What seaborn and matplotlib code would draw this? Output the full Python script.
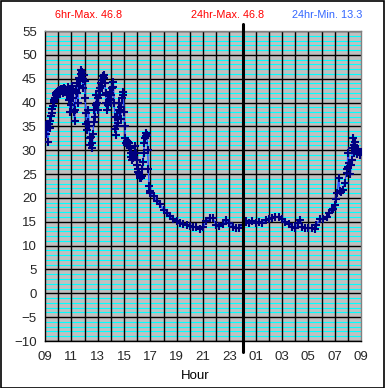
import matplotlib
matplotlib.use("Agg")
import matplotlib.pyplot as plt
import seaborn as sns
import numpy as np
import pandas as pd
from matplotlib.patches import Rectangle

# Hours elapsed since 09:00
hours = [
    0.00, 0.05, 0.10, 0.15, 0.20, 0.25, 0.30, 0.35, 0.40, 0.45, 0.50, 0.55, 0.60, 0.65, 0.70, 0.75,
    0.80, 0.85, 0.90, 0.95, 1.00, 1.05, 1.10, 1.15, 1.20, 1.25, 1.30, 1.35, 1.40, 1.45, 1.50, 1.55,
    1.60, 1.65, 1.70, 1.75, 1.80, 1.85, 1.90, 1.95, 2.00, 2.05, 2.10, 2.15, 2.20, 2.25, 2.30, 2.35,
    2.40, 2.45, 2.50, 2.55, 2.60, 2.65, 2.70, 2.75, 2.80, 2.85, 2.90, 2.95, 3.00, 3.05, 3.10, 3.15,
    3.20, 3.25, 3.30, 3.35, 3.40, 3.45, 3.50, 3.55, 3.60, 3.65, 3.70, 3.75, 3.80, 3.85, 3.90, 3.95,
    4.00, 4.05, 4.10, 4.15, 4.20, 4.25, 4.30, 4.35, 4.40, 4.45, 4.50, 4.55, 4.60, 4.65, 4.70, 4.75,
    4.80, 4.85, 4.90, 4.95, 5.00, 5.05, 5.10, 5.15, 5.20, 5.25, 5.30, 5.35, 5.40, 5.45, 5.50, 5.55,
    5.60, 5.65, 5.70, 5.75, 5.80, 5.85, 5.90, 5.95, 6.00, 6.05, 6.10, 6.15, 6.20, 6.25, 6.30, 6.35,
    6.40, 6.45, 6.50, 6.55, 6.60, 6.65, 6.70, 6.75, 6.80, 6.85, 6.90, 6.95, 7.00, 7.05, 7.10, 7.15,
    7.20, 7.25, 7.30, 7.35, 7.40, 7.45, 7.50, 7.55, 7.60, 7.65, 7.70, 7.75, 7.80, 7.85, 7.90, 7.95,
    8.00, 8.25, 8.50, 8.75, 9.00, 9.25, 9.50, 9.75, 10.00, 10.25, 10.50, 10.75, 11.00, 11.25, 11.50,
    11.75, 12.00, 12.25, 12.50, 12.75, 13.00, 13.25, 13.50, 13.75, 14.00, 14.25, 14.50, 14.75, 15.00,
    15.25, 15.50, 15.75, 16.00, 16.25, 16.50, 16.75, 17.00, 17.25, 17.50, 17.75, 18.00, 18.25, 18.50,
    18.75, 19.00, 19.25, 19.40, 19.50, 19.75, 20.00, 20.25, 20.50, 20.60, 20.90, 21.15, 21.40, 21.60,
    21.80, 21.90, 22.00, 22.10, 22.20, 22.30, 22.40, 22.50, 22.60, 22.75, 22.90, 22.95, 23.00, 23.05,
    23.10, 23.20, 23.25, 23.30, 23.35, 23.40, 23.45, 23.50, 23.55, 23.60, 23.70, 23.80, 23.90, 24.00,
]
temps = [
    34.5, 35.2, 33.5, 35.6, 31.8, 34.8, 35.5, 34.6, 36.2, 37.2, 37.8, 38.6, 39.3, 40.1, 40.6, 41.0,
    41.6, 41.9, 42.3, 42.1, 42.5, 42.2, 42.6, 41.8, 42.4, 42.9, 42.6, 42.0, 42.8, 43.0, 42.5, 42.8,
    42.2, 41.5, 42.6, 43.2, 42.9, 40.5, 38.1, 39.5, 42.0, 43.4, 42.8, 41.0, 38.0, 36.2, 38.5, 42.5,
    44.0, 42.0, 40.0, 43.5, 45.2, 44.6, 46.0, 46.8, 46.5, 45.0, 43.0, 45.8, 44.5, 41.0, 37.8, 35.5,
    34.3, 36.0, 38.5, 35.0, 32.5, 31.0, 32.8, 30.4, 31.5, 33.5, 36.0, 38.5, 37.0, 39.5, 41.6, 40.0,
    38.5, 41.0, 42.5, 41.5, 43.0, 44.2, 43.5, 44.8, 45.5, 45.8, 45.2, 44.0, 42.0, 40.0, 38.5, 39.5,
    41.5, 40.5, 42.0, 40.8, 39.8, 41.5, 43.0, 44.4, 43.2, 40.0, 37.0, 34.5, 33.2, 35.0, 37.0, 35.8,
    38.5, 40.0, 38.0, 36.5, 39.0, 41.0, 42.3, 41.5, 38.0, 35.0, 32.5, 31.5, 32.0, 31.2, 31.8, 30.8,
    31.5, 30.5, 29.5, 28.6, 28.0, 28.3, 29.0, 28.5, 29.5, 30.8, 29.5, 28.0, 27.0, 26.0, 25.5, 25.0,
    24.5, 24.2, 24.1, 24.5, 26.0, 27.5, 29.5, 31.5, 32.5, 33.0, 33.6, 33.2, 30.0, 26.0, 22.5, 21.5,
    21.0, 20.3, 19.4, 18.7, 17.4, 16.8, 16.2, 15.6, 15.1, 14.8, 14.5, 14.3, 14.1, 13.9, 13.8,
    13.4, 13.8, 15.1, 15.8, 15.7, 14.4, 14.1, 14.6, 15.3, 14.8, 13.9, 13.7, 13.6, 14.4,
    15.1, 14.8, 15.2, 14.8, 15.0, 14.7, 15.3, 15.5, 15.8, 16.0, 15.9, 15.5, 15.0, 14.5,
    14.0, 13.6, 14.8, 15.4, 14.0, 13.7, 13.7, 13.6, 13.4, 14.4, 15.5, 15.6, 16.1, 16.8,
    17.4, 17.6, 18.6, 19.7, 21.1, 24.2, 21.4, 21.2, 21.7, 23.1, 25.2, 26.0, 29.4, 26.5,
    27.3, 25.0, 27.0, 28.0, 30.5, 32.5, 31.0, 29.5, 31.8, 30.0, 29.3, 30.2, 29.0, 29.6,
]
hour_labels = ["09", "11", "13", "15", "17", "19", "21", "23", "01", "03", "05", "07", "09"]
title_left = "6hr-Max. 46.8"
title_mid = "24hr-Max. 46.8"
title_right = "24hr-Min. 13.3"

df = pd.DataFrame({"hour": hours, "temp": temps})

sns.set_style("white")
plt.rcParams["font.family"] = ["Liberation Sans", "DejaVu Sans"]

fig = plt.figure(figsize=(3.85, 3.88), dpi=100)
fig.patch.set_facecolor("white")
ax = fig.add_axes([45 / 385, 1 - 341 / 388, 316 / 385, 310 / 388])
ax.set_facecolor("#c0c0c0")

ax.set_xlim(0, 24)
ax.set_ylim(-10, 55)

# grid
ax.set_yticks(np.arange(-10, 56, 5))
ax.set_yticks(np.arange(-10, 56, 1), minor=True)
ax.grid(True, which="minor", axis="y", color="#00ffff", lw=0.8, zorder=0.5)
ax.grid(True, which="major", axis="y", color="black", lw=1.0, zorder=0.6)
for h in range(1, 24):
    ax.axvline(h, color="black", lw=1.0, zorder=0.7)
ax.set_axisbelow(True)

ax.set_xticks(np.arange(0, 25, 2))
ax.set_xticklabels(hour_labels)
ax.tick_params(axis="y", which="minor", length=0)
ax.tick_params(axis="both", which="major", direction="out", length=4, width=1,
               color="black", labelsize=9.5, pad=2)
ax.tick_params(axis="x", which="major", pad=3)

sns.lineplot(data=df, x="hour", y="temp", ax=ax, color="#2f4fff", lw=1.0,
             marker="+", markersize=6, markeredgewidth=1.5,
             markeredgecolor="#000080", estimator=None, sort=False, zorder=3)

# midnight marker
ax.axvline(15, ymin=-11 / 310, ymax=1 + 7 / 310, color="black", lw=2.2,
           clip_on=False, zorder=4)

ax.set_xlabel("")
ax.set_ylabel("")
for side in ["left", "bottom"]:
    ax.spines[side].set_color("black")
    ax.spines[side].set_linewidth(1)
for side in ["top", "right"]:
    ax.spines[side].set_color("#808080")
    ax.spines[side].set_linewidth(1)

fig.text(55 / 385, 1 - 15 / 388, title_left, color="#ff0000", fontsize=7.8,
         ha="left", va="center")
fig.text(228 / 385, 1 - 15 / 388, title_mid, color="#ff0000", fontsize=7.8,
         ha="center", va="center")
fig.text(362 / 385, 1 - 15 / 388, title_right, color="#3366ff", fontsize=7.8,
         ha="right", va="center")
fig.text(195 / 385, 1 - 376 / 388, "Hour", color="black", fontsize=9.5,
         ha="center", va="center")

fig.patches.append(Rectangle((0.5 / 385, 0.5 / 388), 1 - 1.5 / 385, 1 - 1.5 / 388,
                             transform=fig.transFigure, fill=False,
                             edgecolor="black", lw=1.2))

fig.savefig("out.png", dpi=100)
